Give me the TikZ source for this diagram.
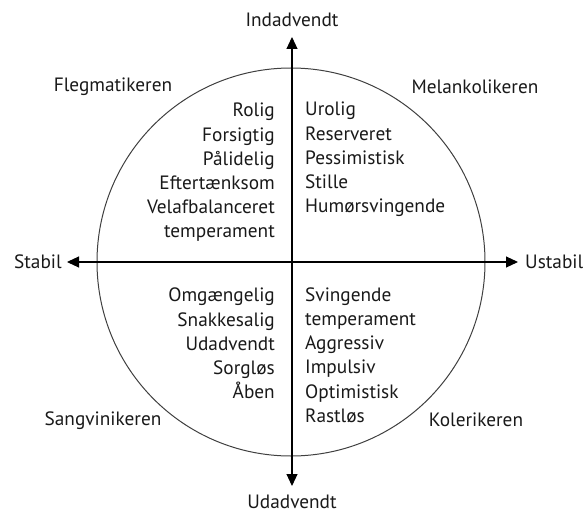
\documentclass[tikz,border=0pt]{standalone}
\usepackage{fontspec}
\setmainfont{PT Sans}
\usetikzlibrary{arrows.meta}
\begin{document}
\begin{tikzpicture}[x=1pt,y=-1pt,
  lbl/.style={font=\fontsize{19.3}{24.2}\selectfont, text=black!90, inner sep=0pt},
  listL/.style={lbl, align=right},
  listR/.style={lbl, align=left},
  axis/.style={line width=1.1pt, black, -{Triangle[length=12pt,width=11pt]}},
  ring/.style={line width=1pt, black!75}]
  \useasboundingbox (0,0) rectangle (588,513);

  % outer circle
  \node[ring, draw, circle, minimum size=388pt, inner sep=0pt] (c) at (291,262) {};

  % axis ends
  \coordinate (o) at (292,262);
  \coordinate (top) at (292,37);
  \coordinate (bot) at (292,486);
  \coordinate (lft) at (67,262);
  \coordinate (rgt) at (518,262);
  \draw[axis] (o) -- (top);
  \draw[axis] (o) -- (bot);
  \draw[axis] (o) -- (lft);
  \draw[axis] (o) -- (rgt);

  % axis labels
  \node[lbl] (ind) at (292,20) {Indadvendt};
  \node[lbl] (udv) at (292,502) {Udadvendt};
  \node[lbl, anchor=east] (stab) at (62,262) {Stabil};
  \node[lbl, anchor=west] (ustab) at (525,262) {Ustabil};

  % temperament names
  \node[lbl] (flegm) at (113,87) {Flegmatikeren};
  \node[lbl] (melan) at (475,87) {Melankolikeren};
  \node[lbl] (sangv) at (103,421) {Sangvinikeren};
  \node[lbl] (koler) at (476,420) {Kolerikeren};

  % quadrant traits
  \node[listL, anchor=east] (q1) at (275,172.5)
    {Rolig\\Forsigtig\\Pålidelig\\Eftertænksom\\Velafbalanceret\\temperament};
  \node[listR, anchor=west] (q2) at (305,159.5)
    {Urolig\\Reserveret\\Pessimistisk\\Stille\\Humørsvingende};
  \node[listL, anchor=east] (q3) at (275,343.5)
    {Omgængelig\\Snakkesalig\\Udadvendt\\Sorgløs\\Åben};
  \node[listR, anchor=west] (q4) at (305,355)
    {Svingende\\temperament\\Aggressiv\\Impulsiv\\Optimistisk\\Rastløs};
\end{tikzpicture}
\end{document}
